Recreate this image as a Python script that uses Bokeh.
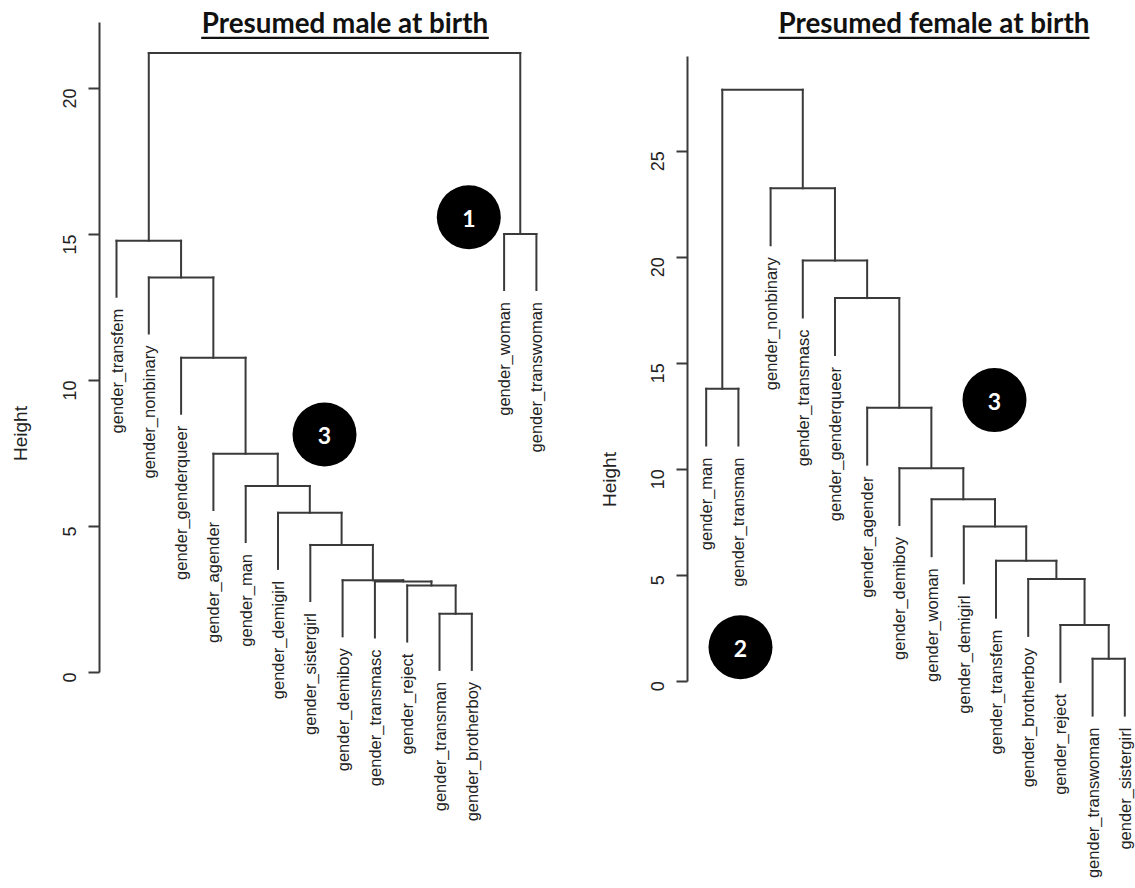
import math
from bokeh.plotting import figure
from bokeh.models import Range1d, FixedTicker
from bokeh.layouts import row
from bokeh.embed import file_html
from bokeh.resources import INLINE
from bokeh.core.properties import value

# ---------------- data ----------------
male_leaves = ["gender_transfem", "gender_nonbinary", "gender_genderqueer", "gender_agender",
               "gender_man", "gender_demigirl", "gender_sistergirl", "gender_demiboy",
               "gender_transmasc", "gender_reject", "gender_transman", "gender_brotherboy",
               "gender_woman", "gender_transwoman"]
# R-style merge table: negative = leaf number, positive = earlier merge step
male_merge_a = [-11, -10, -9, -8, -7, -6, -5, -4, -3, -2, -1, -13, 11]
male_merge_b = [-12, 1, 2, 3, 4, 5, 6, 7, 8, 9, 10, -14, 12]
male_height = [2.01, 2.98, 3.12, 3.16, 4.37, 5.47, 6.39, 7.49, 10.78, 13.53, 14.79, 15.02, 21.22]
male_ticks = [0, 5, 10, 15, 20]

female_leaves = ["gender_man", "gender_transman", "gender_nonbinary", "gender_transmasc",
                 "gender_genderqueer", "gender_agender", "gender_demiboy", "gender_woman",
                 "gender_demigirl", "gender_transfem", "gender_brotherboy", "gender_reject",
                 "gender_transwoman", "gender_sistergirl"]
female_merge_a = [-13, -12, -11, -10, -9, -8, -7, -6, -5, -4, -3, -1, 12]
female_merge_b = [-14, 1, 2, 3, 4, 5, 6, 7, 8, 9, 10, -2, 11]
female_height = [1.06, 2.65, 4.82, 5.68, 7.30, 8.58, 10.05, 12.90, 18.07, 19.84, 23.25, 13.80, 27.90]
female_ticks = [0, 5, 10, 15, 20, 25]

titles = ["Presumed male at birth", "Presumed female at birth"]
axis_title = "Height"
male_badges = ["1", "3"]
female_badges = ["3", "2"]

# ---------------- styling / layout ----------------
LINE = "#3a3a3a"
TXT = "#222222"
SANS = "Liberation Sans"
H = 888


def dendro(ma, mb, hts, n, hang_frac=0.1):
    hang = hang_frac * (max(hts) - min(hts))
    nodes = {}
    x0, y0, x1, y1 = [], [], [], []
    bottoms = [0.0] * n
    for k, (a, b, h) in enumerate(zip(ma, mb, hts), start=1):
        xs = []
        for c in (a, b):
            if c < 0:
                xc, hc = float(-c), h - hang
                bottoms[-c - 1] = hc
            else:
                xc, hc = nodes[c]
            x0.append(xc); y0.append(hc); x1.append(xc); y1.append(h)
            xs.append(xc)
        x0.append(xs[0]); y0.append(h); x1.append(xs[1]); y1.append(h)
        nodes[k] = ((xs[0] + xs[1]) / 2.0, h)
    return x0, y0, x1, y1, bottoms


def label_strip(x_left, width, text_x, text_y):
    s = figure(width=width, height=H, output_backend="svg", toolbar_location=None,
               x_range=Range1d(x_left, x_left + width), y_range=Range1d(H, 0),
               x_axis_location=None, y_axis_location=None,
               min_border_left=0, min_border_right=0, min_border_top=0, min_border_bottom=0,
               outline_line_color=None, background_fill_color="white", border_fill_color="white")
    s.grid.visible = False
    s.text(x=[text_x], y=[text_y], text=[axis_title], angle=math.pi / 2,
           text_align="center", text_baseline="middle",
           text_font=value(SANS), text_font_size="19px", text_color=TXT)
    return s


def panel(width, border_left, xr, yr, pxr_x, ticks, axis_top, leaves, ma, mb, hts,
          title, title_x, ul, badge_xy, badges):
    frame_w = int(round(pxr_x[1] - pxr_x[0]))
    p = figure(width=width, height=H, output_backend="svg", toolbar_location=None,
               x_range=Range1d(*xr), y_range=Range1d(*yr), x_axis_location=None,
               min_border_left=border_left, min_border_right=width - border_left - frame_w,
               min_border_top=0, min_border_bottom=0, background_fill_color="white",
               border_fill_color="white", outline_line_color=None)
    p.extra_x_ranges = {"px": Range1d(*pxr_x)}
    p.extra_y_ranges = {"px": Range1d(H, 0)}
    p.grid.visible = False
    ax = p.yaxis[0]
    ax.ticker = FixedTicker(ticks=ticks)
    ax.bounds = (0, axis_top)
    ax.axis_line_color = LINE
    ax.axis_line_width = 2
    ax.major_tick_line_color = LINE
    ax.major_tick_line_width = 2
    ax.major_tick_out = 11
    ax.major_tick_in = 0
    ax.minor_tick_line_color = None
    ax.major_label_orientation = math.pi / 2
    ax.major_label_standoff = 19
    ax.major_label_text_font = SANS
    ax.major_label_text_font_size = "18px"
    ax.major_label_text_color = TXT

    x0, y0, x1, y1, bottoms = dendro(ma, mb, hts, len(leaves))
    p.segment(x0=x0, y0=y0, x1=x1, y1=y1, line_color=LINE, line_width=2, line_cap="square")

    ppu = H / (yr[1] - yr[0])
    gap = 12.0 / ppu
    p.text(x=list(range(1, len(leaves) + 1)), y=[b - gap for b in bottoms], text=leaves,
           angle=math.pi / 2, text_align="right", text_baseline="middle",
           text_font=value(SANS), text_font_size="16.5px", text_color=TXT)

    # title with underline
    p.text(x=[title_x], y=[22.0], text=[title], x_range_name="px", y_range_name="px",
           text_font=value("Lato"), text_font_style="bold", text_font_size="27.8px",
           text_align="center", text_baseline="middle", text_color="#111111")
    p.segment(x0=[ul[0]], y0=[37.3], x1=[ul[1]], y1=[37.3], x_range_name="px", y_range_name="px",
              line_color="#111111", line_width=2.2)

    # numbered badges
    bx = [b[0] for b in badge_xy]
    by = [b[1] for b in badge_xy]
    p.scatter(x=bx, y=by, size=64, marker="circle", fill_color="black", line_color=None,
              x_range_name="px", y_range_name="px")
    p.text(x=bx, y=[v + 1 for v in by], text=badges, x_range_name="px", y_range_name="px",
           text_font=value("Lato"), text_font_style="bold", text_font_size="23px",
           text_color="white", text_align="center", text_baseline="middle")
    return p


# strip 0..40 with "Height"
s1 = label_strip(0, 40, 20, 433)
# left dendrogram canvas 40..560; frame 99..553 ; value 0 at y=672, 29.2 px/unit
p1 = panel(520, 59, (0.4737, 14.529), ((672 - H) / 29.2, 672 / 29.2), (99, 553),
           male_ticks, 22.26, male_leaves, male_merge_a, male_merge_b, male_height,
           titles[0], 344.5, (200.7, 488.3), [(468.3, 216.7), (324, 434)], male_badges)
# strip 560..630 with "Height"
s2 = label_strip(560, 70, 609, 479)
# right dendrogram canvas 630..1135; frame 687..1135 ; value 0 at y=680.7, 21.2 px/unit
p2 = panel(505, 57, (0.4193, 14.332), ((680.7 - H) / 21.2, 680.7 / 21.2), (687, 1135),
           female_ticks, 29.47, female_leaves, female_merge_a, female_merge_b, female_height,
           titles[1], 933.5, (778, 1089), [(994, 399.6), (740, 646.7)], female_badges)

layout = row(s1, p1, s2, p2, spacing=0)
open("out.html", "w").write(file_html(layout, INLINE))
